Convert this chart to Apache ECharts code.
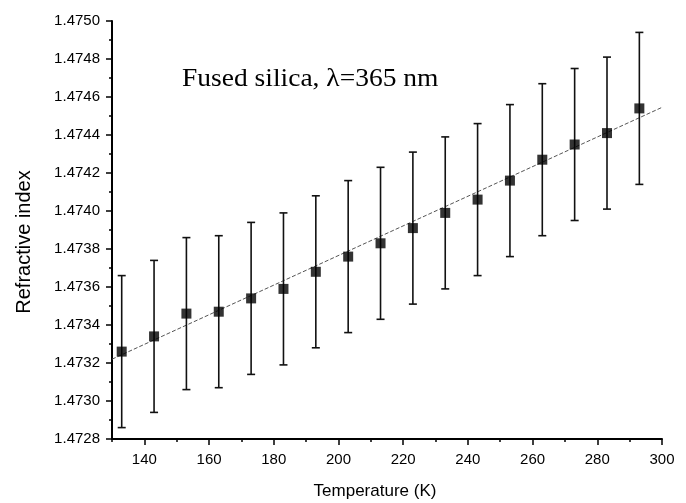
<!DOCTYPE html>
<html>
<head>
<meta charset="utf-8">
<script src="https://cdn.jsdelivr.net/npm/echarts@6/dist/echarts.min.js"></script>
<style>
html,body{margin:0;padding:0;background:#fff;}
#chart{width:686px;height:503px;}
</style>
</head>
<body>
<div id="chart"></div>
<script>
// ---- data ----
const temperatures = [133, 143, 153, 163, 173, 183, 193, 203, 213, 223, 233, 243, 253, 263, 273, 283, 293];
const refractiveIndex = [1.47326, 1.47334, 1.47346, 1.47347, 1.47354, 1.47359, 1.47368, 1.47376, 1.47383,
                         1.47391, 1.47399, 1.47406, 1.47416, 1.47427, 1.47435, 1.47441, 1.47454];
const errorHalfWidth = [0.0004, 0.0004, 0.0004, 0.0004, 0.0004, 0.0004, 0.0004, 0.0004, 0.0004,
                        0.0004, 0.0004, 0.0004, 0.0004, 0.0004, 0.0004, 0.0004, 0.0004];
const fitTemperatures = [130, 307];
const fitValues = [1.47322, 1.47460];
const xMajorTicks = [140, 160, 180, 200, 220, 240, 260, 280, 300];
const xMinorTicks = [130, 150, 170, 190, 210, 230, 250, 270, 290];
const yMinorTicks = [1.4729, 1.4731, 1.4733, 1.4735, 1.4737, 1.4739, 1.4741, 1.4743, 1.4745, 1.4747, 1.4749];
const xTitle = 'Temperature (K)';
const yTitle = 'Refractive index';
const annotation = 'Fused silica, \u03bb=365 nm';

const chart = echarts.init(document.getElementById('chart'), null, {renderer: 'canvas'});
const axisFont = 'Liberation Sans, Arial, sans-serif';
const black = '#000';

const errData = temperatures.map((t, i) => [t, refractiveIndex[i] - errorHalfWidth[i], refractiveIndex[i] + errorHalfWidth[i]]);
const ptData = temperatures.map((t, i) => [t, refractiveIndex[i]]);
const fitData = fitTemperatures.map((t, i) => [t, fitValues[i]]);

const option = {
  backgroundColor: '#fff',
  animation: false,
  grid: {left: 112, right: 24, top: 21, bottom: 64, containLabel: false},
  xAxis: [{
    type: 'value', min: 130, max: 300,
    axisLine: {show: true, onZero: false, lineStyle: {color: black, width: 2}},
    axisTick: {show: true, customValues: xMajorTicks, length: 6, lineStyle: {color: black, width: 1.5}},
    axisLabel: {show: true, customValues: xMajorTicks, fontFamily: axisFont, fontSize: 15, color: black, margin: 13},
    splitLine: {show: false}
  }, {
    type: 'value', min: 130, max: 300, position: 'bottom',
    axisLine: {show: false, onZero: false},
    axisTick: {show: true, customValues: xMinorTicks, length: 3, lineStyle: {color: black, width: 1.5}},
    axisLabel: {show: false},
    splitLine: {show: false}
  }],
  yAxis: [{
    type: 'value', min: 1.4728, max: 1.4750, interval: 0.0002,
    axisLine: {show: true, onZero: false, lineStyle: {color: black, width: 2}},
    axisTick: {show: true, length: 6, lineStyle: {color: black, width: 1.5}},
    axisLabel: {fontFamily: axisFont, fontSize: 15, color: black, margin: 12,
      formatter: v => v.toFixed(4)},
    splitLine: {show: false}
  }, {
    type: 'value', min: 1.4728, max: 1.4750, position: 'left',
    axisLine: {show: false, onZero: false},
    axisTick: {show: true, customValues: yMinorTicks, length: 3, lineStyle: {color: black, width: 1.5}},
    axisLabel: {show: false},
    splitLine: {show: false}
  }],
  graphic: [{
    type: 'text', left: 182, top: 67, scaleX: 1.1,
    style: {text: annotation, font: '25px "Liberation Serif", "Times New Roman", serif', fill: black}
  }, {
    type: 'text', x: 375, y: 491,
    style: {text: xTitle, font: '17px "Liberation Sans", Arial, sans-serif', fill: black,
      textAlign: 'center', textVerticalAlign: 'middle'}
  }, {
    type: 'text', x: 24, y: 242, rotation: Math.PI / 2,
    style: {text: yTitle, font: '20px "Liberation Sans", Arial, sans-serif', fill: black,
      textAlign: 'center', textVerticalAlign: 'middle'}
  }],
  series: [{
    type: 'line', name: 'fit', data: fitData, showSymbol: false, clip: false,
    lineStyle: {color: '#555', width: 1, type: [4, 2]}, z: 2
  }, {
    type: 'custom', name: 'error', data: errData, xAxisIndex: 0, yAxisIndex: 0,
    encode: {x: 0, y: [1, 2]},
    renderItem: function (params, api) {
      const x = api.value(0);
      const lo = api.coord([x, api.value(1)]);
      const hi = api.coord([x, api.value(2)]);
      const w = 4;
      const st = {stroke: '#111', lineWidth: 1.6};
      return {type: 'group', children: [
        {type: 'line', shape: {x1: hi[0], y1: hi[1], x2: lo[0], y2: lo[1]}, style: st},
        {type: 'line', shape: {x1: hi[0] - w, y1: hi[1], x2: hi[0] + w, y2: hi[1]}, style: st},
        {type: 'line', shape: {x1: lo[0] - w, y1: lo[1], x2: lo[0] + w, y2: lo[1]}, style: st}
      ]};
    },
    z: 3
  }, {
    type: 'scatter', name: 'data', data: ptData, symbol: 'rect', symbolSize: 10,
    itemStyle: {color: black}, z: 4
  }]
};
chart.setOption(option);
</script>
</body>
</html>
